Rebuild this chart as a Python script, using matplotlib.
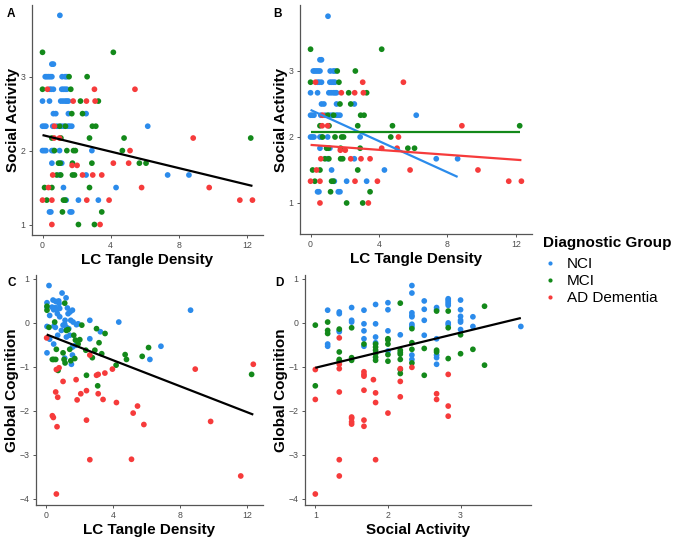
import numpy as np
import matplotlib
matplotlib.use('Agg')
import matplotlib.pyplot as plt
from matplotlib.lines import Line2D

plt.rcParams['font.family'] = ['Liberation Sans', 'DejaVu Sans']

# ---- data -----------------------------------------------------------------
groups = ['NCI', 'MCI', 'AD Dementia']
colors = {'NCI': '#2B8BEB', 'MCI': '#13891A', 'AD Dementia': '#F63B3B'}

# Panels A/B: LC tangle density vs social activity
tangle_sa = {
    'NCI': [1.02, 0.55, 0.64, 0.16, 0.25, 0.35, 0.45, 0.55, 1.15, 1.33, 1.43,
            0.41, 0.51, 0.64, 1.13, 1.23, 1.33, 1.43, 0.0, 0.41, 1.07, 1.2, 1.33,
            1.43, 1.52, 0.64, 0.78, 1.52, 2.56, 0.0, 0.1, 0.2, 0.6, 0.85, 1.1,
            1.25, 1.5, 1.6, 1.72, 6.18, 0.0, 0.1, 0.2, 0.55, 0.64, 1.0, 2.9,
            0.55, 1.13, 1.0, 2.56, 7.35, 8.6, 1.23, 4.32, 1.39, 2.11, 3.28,
            0.41, 0.49, 1.62, 1.72],
    'MCI': [0.0, 4.16, 1.56, 2.62, 0.0, 1.66, 2.23, 3.28, 1.72, 2.35, 1.0, 1.35,
            2.93, 3.13, 0.55, 1.08, 2.76, 4.79, 12.23, 0.7, 1.43, 1.82, 1.93,
            4.69, 0.94, 1.04, 1.76, 2.9, 5.69, 6.08, 0.84, 1.07, 1.76, 1.88,
            0.12, 0.55, 2.76, 0.25, 1.23, 1.33, 1.17, 3.48, 2.11, 3.05],
    'AD Dementia': [0.29, 3.05, 5.43, 1.8, 2.58, 3.09, 0.7, 0.68, 1.0, 8.85, 5.14,
                    1.74, 2.03, 4.16, 5.06, 0.6, 2.35, 2.95, 3.48, 0.35, 5.82,
                    9.79, 0.0, 0.55, 2.6, 3.91, 11.59, 12.33, 0.55, 3.38],
}
social_sa = {
    'NCI': [3.83, 3.17, 3.17, 3.0, 3.0, 3.0, 3.0, 3.0, 3.0, 3.0, 3.0,
            2.83, 2.83, 2.83, 2.83, 2.83, 2.83, 2.83, 2.67, 2.67, 2.67, 2.67, 2.67,
            2.67, 2.67, 2.5, 2.5, 2.5, 2.5, 2.33, 2.33, 2.33, 2.33, 2.33, 2.33,
            2.33, 2.33, 2.33, 2.33, 2.33, 2.0, 2.0, 2.0, 2.0, 2.0, 2.0, 2.0,
            1.83, 1.83, 1.67, 1.67, 1.67, 1.67, 1.5, 1.5, 1.33, 1.33, 1.33,
            1.17, 1.17, 1.17, 1.17],
    'MCI': [3.33, 3.33, 3.0, 3.0, 2.83, 2.83, 2.67, 2.67, 2.5, 2.5, 2.33, 2.33,
            2.33, 2.33, 2.17, 2.17, 2.17, 2.17, 2.17, 2.0, 2.0, 2.0, 2.0,
            2.0, 1.83, 1.83, 1.83, 1.83, 1.83, 1.83, 1.67, 1.67, 1.67, 1.67,
            1.5, 1.5, 1.5, 1.33, 1.33, 1.33, 1.17, 1.17, 1.0, 1.0],
    'AD Dementia': [2.83, 2.83, 2.83, 2.67, 2.67, 2.67, 2.33, 2.17, 2.17, 2.17, 2.0,
                    1.8, 1.8, 1.83, 1.83, 1.67, 1.67, 1.67, 1.67, 1.5, 1.5,
                    1.5, 1.33, 1.33, 1.33, 1.33, 1.33, 1.33, 1.0, 1.0],
}

# Panel C: LC tangle density vs global cognition
tangle_gc = {
    'NCI': [0.16, 0.94, 0.04, 0.4, 0.56, 0.74, 1.18, 0.04, 0.34, 0.44, 0.54, 0.64,
            0.76, 0.8, 1.26, 1.42, 1.3, 1.56, 0.2, 0.66, 0.8, 1.12, 1.46, 1.6,
            0.04, 0.46, 0.54, 1.0, 1.1, 1.8, 1.9, 1.2, 1.34, 0.9, 0.68, 0.2,
            1.2, 1.4, 2.6, 2.6, 3.23, 4.33, 8.62, 6.85, 6.19, 0.04, 0.44, 1.56,
            1.74, 1.5, 1.1, 1.56],
    'MCI': [0.04, 0.04, 1.1, 0.5, 0.16, 1.2, 1.3, 1.64, 2.12, 3.0, 3.51, 2.0, 1.9,
            1.74, 0.6, 0.44, 0.36, 0.56, 1.0, 1.06, 1.12, 1.4, 1.46, 1.7, 2.36,
            2.75, 2.9, 3.15, 3.31, 4.71, 4.79, 5.73, 6.11, 2.4, 3.07, 4.17,
            12.27, 0.7],
    'AD Dementia': [0.02, 0.6, 0.76, 1.0, 0.56, 0.68, 1.78, 1.84, 2.06, 2.4, 2.6,
                    3.0, 3.1, 3.1, 3.5, 3.39, 3.95, 4.19, 0.36, 0.42, 0.64, 2.4,
                    5.19, 5.45, 5.83, 2.6, 5.09, 0.6, 8.9, 9.82, 11.62, 12.37],
}
cog_gc = {
    'NCI': [0.85, 0.68, 0.46, 0.52, 0.49, 0.5, 0.57, 0.36, 0.36, 0.3, 0.35, 0.3,
            0.44, 0.33, 0.34, 0.25, 0.21, 0.29, 0.17, 0.21, 0.14, 0.06, 0.06, 0.02,
            -0.08, -0.07, -0.1, -0.05, -0.03, -0.04, -0.02, -0.1, -0.13, -0.17,
            -0.28, -0.37, -0.32, -0.28, 0.06, -0.36, -0.2, 0.02, 0.29, -0.53,
            -0.83, -0.68, -0.48, -0.55, -0.51, -0.94, -0.8, -0.73],
    'MCI': [0.38, 0.29, 0.45, 0.02, -0.1, -0.17, -0.15, -0.28, -0.05, -0.13, -0.24,
            -0.38, -0.48, -0.39, -0.6, -0.83, -0.83, -0.83, -0.68, -0.83, -0.91,
            -0.6, -0.86, -0.81, -0.62, -0.79, -0.62, -0.45, -0.7, -0.72, -0.83,
            -0.76, -0.56, -1.19, -1.43, -0.96, -1.17, -1.08],
    'AD Dementia': [-0.34, -1.06, -1.02, -1.33, -1.57, -1.69, -1.29, -1.75, -1.61,
                    -1.54, -0.73, -1.19, -1.17, -1.61, -1.14, -1.74, -1.05, -1.81,
                    -2.11, -2.15, -2.36, -2.21, -2.05, -1.89, -2.31, -3.11, -3.1,
                    -3.89, -1.05, -2.24, -3.48, -0.94],
}

# Panel D: social activity vs global cognition
social_gc = {
    'NCI': [1.17, 1.17, 1.17, 1.33, 1.33, 1.33, 1.33, 1.5, 1.5, 1.5, 1.67, 1.67,
            1.67, 1.67, 1.67, 1.83, 1.83, 1.83, 1.83, 2.0, 2.0, 2.0, 2.0, 2.17,
            2.33, 2.33, 2.33, 2.33, 2.33, 2.33, 2.33, 2.33, 2.33, 2.5, 2.5, 2.5,
            2.5, 2.67, 2.67, 2.67, 2.67, 2.67, 2.67, 2.83, 2.83, 2.83, 2.83, 2.83,
            2.83, 2.83, 3.0, 3.0, 3.0, 3.0, 3.0, 3.0, 3.17, 3.17, 3.83],
    'MCI': [1.0, 1.0, 1.17, 1.17, 1.17, 1.33, 1.33, 1.33, 1.33, 1.5, 1.5, 1.5,
            1.67, 1.83, 1.83, 1.83, 1.83, 1.83, 1.83, 2.0, 2.0, 2.0, 2.0, 2.0,
            2.17, 2.17, 2.17, 2.17, 2.17, 2.17, 2.17, 2.33, 2.33, 2.33, 2.33,
            2.5, 2.5, 2.67, 2.67, 2.67, 2.83, 2.83, 2.83, 3.0, 3.0, 3.17, 3.33,
            3.33],
    'AD Dementia': [1.0, 1.0, 1.0, 1.33, 1.33, 1.33, 1.33, 1.33, 1.33, 1.5, 1.5,
                    1.5, 1.5, 1.67, 1.67, 1.67, 1.67, 1.67, 1.67, 1.8, 1.83, 1.83,
                    1.83, 2.0, 2.17, 2.17, 2.17, 2.33, 2.67, 2.67, 2.83, 2.83, 2.83],
}
cog_sa = {
    'NCI': [0.29, -0.48, -0.53, 0.25, 0.21, -0.17, -0.2, 0.35, 0.06, 0.02, 0.29,
            -0.02, -0.18, -0.36, -0.53, 0.42, -0.02, -0.32, -0.45, 0.46, 0.3,
            -0.18, -0.64, -0.27, 0.85, 0.68, 0.23, 0.17, 0.14, -0.03, -0.08,
            -0.73, -0.83, 0.5, 0.31, 0.06, -0.28, 0.35, 0.3, -0.36, -0.73, -0.79,
            -0.94, 0.55, 0.52, 0.48, 0.44, 0.4, 0.0, -0.04, 0.52, 0.3, 0.15, 0.06,
            0.02, -0.15, 0.14, -0.08, -0.08],
    'MCI': [-0.05, -1.43, 0.02, -0.17, -0.24, -0.14, -0.66, -0.83, -0.86, -0.11,
            -0.79, -0.85, -0.48, -0.48, -0.55, -0.62, -0.7, -0.78, -0.85, -0.36,
            -0.39, -0.48, -0.72, -0.87, 0.45, -0.62, -0.67, -0.71, -0.83, -1.06,
            -1.15, -0.13, -0.45, -0.6, -0.91, -0.58, -1.19, 0.27, -0.62, -0.66,
            0.27, -0.11, -0.81, -0.27, -0.7, -0.6, 0.38, -0.96],
    'AD Dementia': [-1.06, -1.74, -3.89, -0.34, -0.94, -1.04, -1.57, -3.11, -3.48,
                    -2.14, -2.17, -2.25, -2.3, -1.11, -1.17, -1.21, -1.53, -2.21,
                    -2.35, -1.29, -1.59, -1.81, -3.11, -2.05, -1.04, -1.33, -1.68,
                    -1.01, -1.61, -1.74, -1.17, -1.89, -2.12],
}

# fitted lines: (x start, x end, intercept, slope)
fit_a = (0.0, 12.33, 2.21, -0.0558)
fit_b = {
    'NCI': (0.0, 8.6, 2.41, -0.118),
    'MCI': (0.0, 12.23, 2.07, 0.0),
    'AD Dementia': (0.0, 12.33, 1.88, -0.0187),
}
fit_c = (0.02, 12.37, -0.26, -0.1475)
fit_d = (1.0, 3.83, -1.42, 0.40)

# ---- layout ---------------------------------------------------------------
W, H = 675, 540
fig = plt.figure(figsize=(W / 100, H / 100), dpi=100)


def rect(l, r, t, b):
    return [l / W, 1 - b / H, (r - l) / W, (b - t) / H]


axis_grey = '#4D4D4D'


def style(ax, xlabel, ylabel):
    for s in ['top', 'right']:
        ax.spines[s].set_visible(False)
    for s in ['left', 'bottom']:
        ax.spines[s].set_color('#555555')
        ax.spines[s].set_linewidth(0.9)
    ax.tick_params(length=2.5, width=0.7, colors='#555555', labelsize=6.3,
                   labelcolor=axis_grey, pad=2)
    ax.set_xlabel(xlabel, fontsize=11, fontweight='bold', labelpad=2)
    ax.set_ylabel(ylabel, fontsize=11, fontweight='bold', labelpad=0.8)


def scatter(ax, xs, ys):
    for g in groups:
        ax.scatter(xs[g], ys[g], s=17, color=colors[g], edgecolors='none', zorder=2)


def fit_line(ax, f, color):
    x = np.array([f[0], f[1]])
    ax.plot(x, f[2] + f[3] * x, color=color, lw=1.6, zorder=3, solid_capstyle='butt')


# A
axA = fig.add_axes(rect(32, 263, 5, 235))
scatter(axA, tangle_sa, social_sa)
fit_line(axA, fit_a, 'black')
axA.set_xlim(-0.617, 12.95)
axA.set_ylim(0.858, 3.97)
axA.set_xticks([0, 4, 8, 12])
axA.set_yticks([1, 2, 3])
style(axA, 'LC Tangle Density', 'Social Activity')

# B
axB = fig.add_axes(rect(300, 532, 5, 234))
scatter(axB, tangle_sa, social_sa)
for g in groups:
    fit_line(axB, fit_b[g], colors[g])
axB.set_xlim(-0.617, 12.95)
axB.set_ylim(0.53, 4.0)
axB.set_xticks([0, 4, 8, 12])
axB.set_yticks([1, 2, 3])
style(axB, 'LC Tangle Density', 'Social Activity')

# C
axC = fig.add_axes(rect(36, 263, 275, 505))
scatter(axC, tangle_gc, cog_gc)
fit_line(axC, fit_c, 'black')
axC.set_xlim(-0.617, 12.95)
axC.set_ylim(-4.14, 1.09)
axC.set_xticks([0, 4, 8, 12])
axC.set_yticks([-4, -3, -2, -1, 0, 1])
style(axC, 'LC Tangle Density', 'Global Cognition')

# D
axD = fig.add_axes(rect(305, 531, 275, 505))
scatter(axD, social_gc, cog_sa)
fit_line(axD, fit_d, 'black')
axD.set_xlim(0.858, 3.97)
axD.set_ylim(-4.14, 1.09)
axD.set_xticks([1, 2, 3])
axD.set_yticks([-4, -3, -2, -1, 0, 1])
style(axD, 'Social Activity', 'Global Cognition')

# panel tags
for tag, x, y in [('A', 7, 8), ('B', 273, 8), ('C', 7, 277), ('D', 275, 277)]:
    fig.text(x / W, 1 - y / H, tag, fontsize=8.5, fontweight='bold', va='top', ha='left')

# legend
fig.text(543 / W, 1 - 243 / H, 'Diagnostic Group', fontsize=11, fontweight='bold',
         va='center', ha='left')
handles = [Line2D([], [], ls='none', marker='o', markersize=3, color=colors[g],
                  markeredgewidth=0) for g in groups]
leg = fig.legend(handles, groups, loc='upper left', bbox_to_anchor=(543 / W, 1 - 257 / H),
                 frameon=False, fontsize=11,
                 handlelength=0.92, handletextpad=0.65, labelspacing=0.2,
                 borderpad=0, borderaxespad=0)

fig.savefig('out.png', dpi=100)
